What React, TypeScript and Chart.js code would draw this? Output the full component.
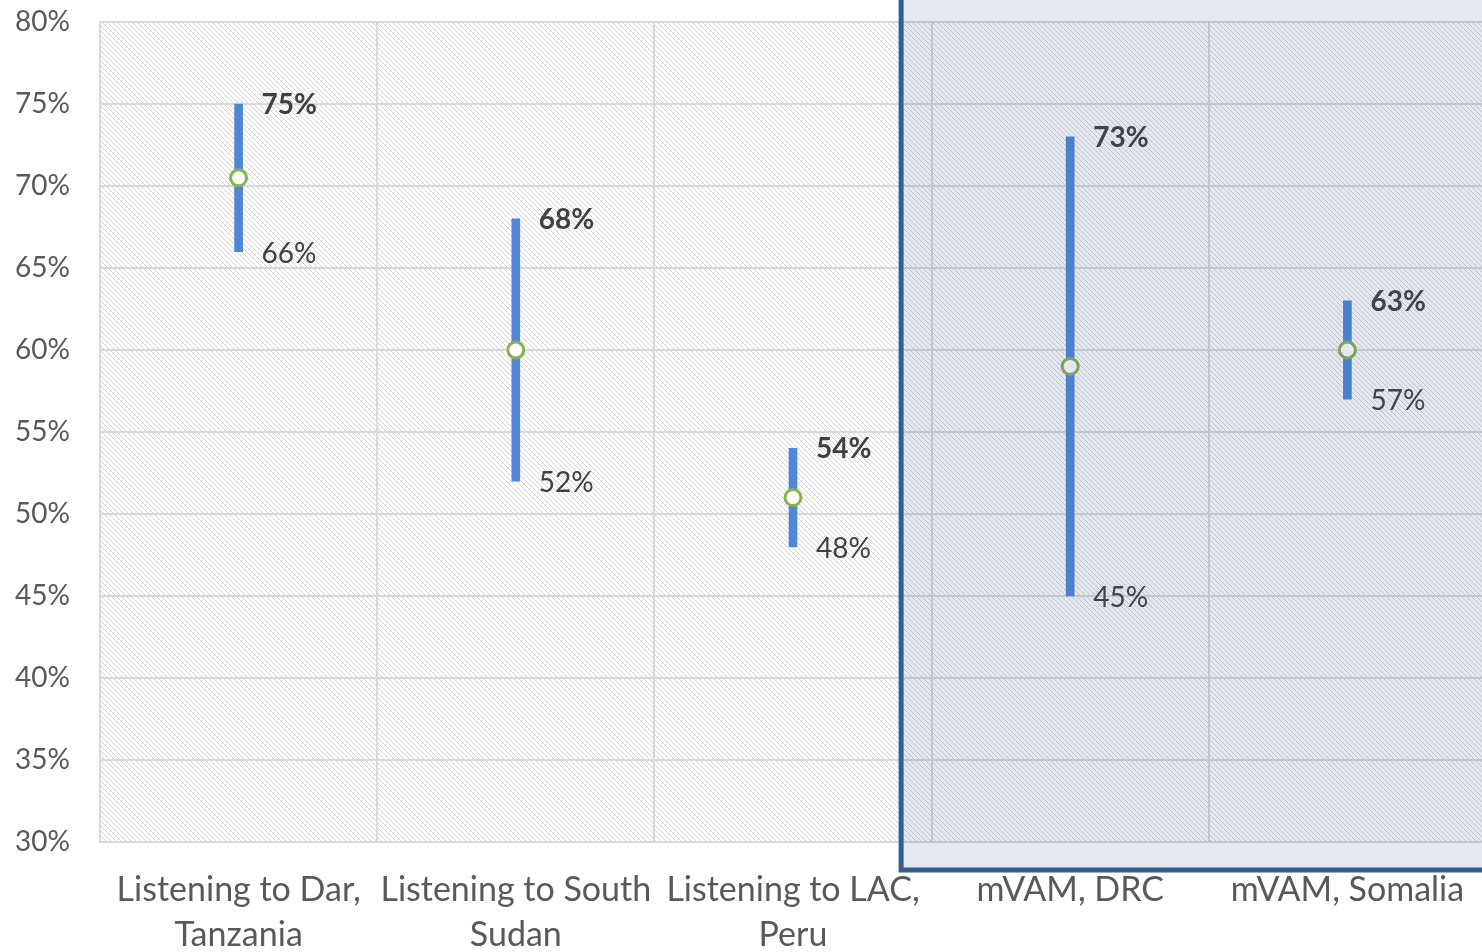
import React, { useEffect, useRef } from "react";
import { Chart, registerables } from "chart.js";

Chart.register(...registerables);

const categories: string[][] = [
  ["Listening to Dar,", "Tanzania"],
  ["Listening to South", "Sudan"],
  ["Listening to LAC,", "Peru"],
  ["mVAM, DRC"],
  ["mVAM, Somalia"],
];
const lowValues = [66, 52, 48, 45, 57];
const highValues = [75, 68, 54, 73, 63];
const midValues = [70.5, 60, 51, 59, 60];
const yTicks = [30, 35, 40, 45, 50, 55, 60, 65, 70, 75, 80];
const highlightFrom = 3; // first highlighted category index

const FONT = "Lato, 'Open Sans', sans-serif";

function makeHatch(ctx: CanvasRenderingContext2D) {
  const n = 5;
  const c = document.createElement("canvas");
  c.width = n;
  c.height = n;
  const t = c.getContext("2d")!;
  t.fillStyle = "#ffffff";
  t.fillRect(0, 0, n, n);
  for (let i = 0; i < n; i++) {
    t.fillStyle = "#d4d4d4";
    t.fillRect(i, i, 1, 1);
  }
  return ctx.createPattern(c, "repeat");
}

const hatchPlugin = {
  id: "hatch",
  beforeDraw(chart: any) {
    const { ctx, chartArea } = chart;
    const p = makeHatch(ctx);
    ctx.save();
    ctx.fillStyle = "#ffffff";
    ctx.fillRect(0, 0, chart.width, chart.height);
    if (p) ctx.fillStyle = p;
    ctx.fillRect(chartArea.left, chartArea.top, chartArea.right - chartArea.left, chartArea.bottom - chartArea.top);
    ctx.restore();
  },
};

const highlightPlugin = {
  id: "highlight",
  afterDatasetsDraw(chart: any) {
    const { ctx, chartArea, scales } = chart;
    const xs = scales.x;
    const cat = xs.getPixelForValue(1) - xs.getPixelForValue(0);
    const left = xs.getPixelForValue(highlightFrom - 0.5) - cat * 0.11;
    const bottom = chartArea.bottom + 28;
    const top = -20;
    const right = chart.width + 20;
    ctx.save();
    ctx.fillStyle = "rgba(47,85,151,0.14)";
    ctx.fillRect(left, top, right - left, bottom - top);
    ctx.strokeStyle = "#375d8e";
    ctx.lineWidth = 5;
    ctx.strokeRect(left, top, right - left, bottom - top);
    ctx.restore();
  },
};

const labelPlugin = {
  id: "rangeLabels",
  afterDatasetsDraw(chart: any) {
    const { ctx, scales } = chart;
    ctx.save();
    ctx.fillStyle = "#404040";
    ctx.textAlign = "left";
    ctx.textBaseline = "middle";
    for (let i = 0; i < categories.length; i++) {
      const x = scales.x.getPixelForValue(i) + 23;
      ctx.font = `bold 28px ${FONT}`;
      ctx.fillText(`${highValues[i]}%`, x, scales.y.getPixelForValue(highValues[i]) + 1);
      ctx.font = `28px ${FONT}`;
      ctx.fillText(`${lowValues[i]}%`, x, scales.y.getPixelForValue(lowValues[i]) + 2);
    }
    ctx.restore();
  },
};

export default function App() {
  const ref = useRef<HTMLCanvasElement>(null);
  useEffect(() => {
    if (!ref.current) return;
    const chart = new Chart(ref.current, {
      type: "bar",
      data: {
        labels: categories,
        datasets: [
          {
            type: "line",
            data: midValues,
            showLine: false,
            pointRadius: 8,
            pointHoverRadius: 8,
            pointBorderWidth: 3,
            pointBackgroundColor: "#ffffff",
            pointBorderColor: "#8ab14e",
            order: 0,
          } as any,
          {
            type: "bar",
            data: lowValues.map((l, i) => [l, highValues[i]]),
            backgroundColor: "#4e87d5",
            borderWidth: 0,
            barThickness: 8,
            order: 1,
          } as any,
        ],
      },
      options: {
        responsive: false,
        animation: false,
        devicePixelRatio: 1,
        layout: { padding: { top: 22, left: 0, right: 0, bottom: 0 } },
        plugins: { legend: { display: false }, tooltip: { enabled: false } },
        scales: {
          x: {
            offset: true,
            grid: { color: "#d9d9d9", lineWidth: 2, drawTicks: false, offset: true },
            border: { color: "#d9d9d9", width: 2 },
            ticks: {
              autoSkip: false,
              maxRotation: 0,
              minRotation: 0,
              padding: 26,
              color: "#595959",
              font: { family: FONT, size: 34, lineHeight: 1.32 },
            },
            afterFit(scale: any) {
              scale.height = 110;
              scale.paddingLeft = 0;
              scale.paddingRight = 0;
            },
          },
          y: {
            min: yTicks[0],
            max: yTicks[yTicks.length - 1],
            grid: { color: "#d9d9d9", lineWidth: 2, drawTicks: false },
            border: { color: "#d9d9d9", width: 2 },
            afterBuildTicks(scale: any) {
              scale.ticks = yTicks.map((v) => ({ value: v }));
            },
            ticks: {
              padding: 30,
              color: "#595959",
              font: { family: FONT, size: 28 },
              callback: (v: any) => `${v}%`,
            },
            afterFit(scale: any) {
              scale.width = 100;
              scale.paddingTop = 0;
              scale.paddingBottom = 0;
            },
          },
        },
      },
      plugins: [hatchPlugin, labelPlugin, highlightPlugin],
    });
    return () => chart.destroy();
  }, []);
  return (
    <div
      style={{
        position: "fixed",
        left: 0,
        top: 0,
        width: 1482,
        height: 952,
        overflow: "hidden",
        background: "#ffffff",
      }}
    >
      <canvas ref={ref} width={1497} height={952} style={{ display: "block", width: 1497, height: 952 }} />
    </div>
  );
}
